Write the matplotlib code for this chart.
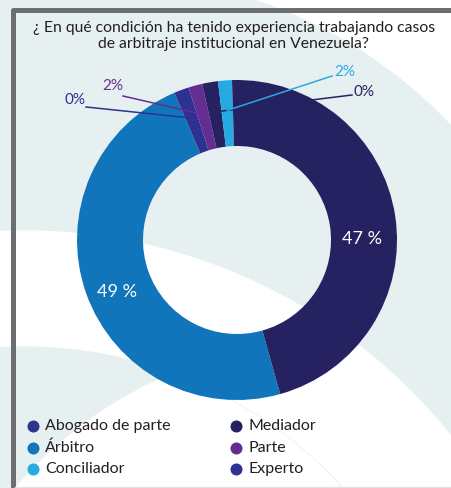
import numpy as np
import matplotlib.pyplot as plt
from matplotlib.patches import Circle

# datos
titulo = "¿ En qué condición ha tenido experiencia trabajando casos\nde arbitraje institucional en Venezuela?"
porciones = ["Mediador", "Árbitro", "Experto", "Parte", "Abogado de parte", "Conciliador"]
valores = [46.2, 48.0, 1.5, 1.4, 1.6, 1.4]
etiquetas = ["47 %", "49 %", "0%", "2%", "0%", "2%"]
colores = ["#262262", "#1075bb", "#2e3192", "#662d91", "#262262", "#27aae1"]

leyenda = ["Abogado de parte", "Árbitro", "Conciliador", "Mediador", "Parte", "Experto"]
colores_leyenda = ["#2b3590", "#1075bb", "#27aae1", "#262262", "#662d91", "#2e3192"]

W, H = 451, 488
fig = plt.figure(figsize=(W / 100, H / 100), dpi=100)
ax = fig.add_axes([0, 0, 1, 1])
ax.set_xlim(0, W)
ax.set_ylim(0, H)
ax.set_aspect("equal")
ax.axis("off")

claro = "#e7f0f1"
ax.add_patch(plt.Rectangle((0, 0), W, H, color="white", zorder=-10))
# fondo con curvas
ax.add_patch(Circle((105, H - 450), 474, color=claro, zorder=-9))
ax.add_patch(Circle((24, H - 778), 547, color="white", zorder=-8))
interior = Circle((24, H - 778), 431, color=claro, zorder=-7)
ax.add_patch(interior)
blanco = Circle((329, H - 754), 411, color="white", zorder=-6)
ax.add_patch(blanco)
blanco.set_clip_path(interior)

# marco gris
ax.plot([13, 13, W], [0, H - 10, H - 10], color="#6d6e71", lw=3.6,
        solid_joinstyle="round", solid_capstyle="butt", zorder=-1)
ax.plot([15, W], [1.5, 1.5], color="#e2e2e2", lw=1, zorder=-1)

fam = ["Lato", "DejaVu Sans"]
ax.text(234, H - 36, titulo, ha="center", va="center", fontsize=11.3,
        color="#231f20", family=fam, linespacing=1.2)

cx, cy, R = 237, H - 240, 160
wedges, _ = ax.pie(valores, colors=colores, startangle=91.8, counterclock=False,
                   center=(cx, cy), radius=R,
                   wedgeprops=dict(width=66, linewidth=0))
ax.set_xlim(0, W)
ax.set_ylim(0, H)
wedges[0].set_zorder(3)
for w in wedges[1:]:
    w.set_zorder(1)

# etiquetas internas
ax.text(362, H - 239, etiquetas[0], color="white", fontsize=13, family=fam,
        ha="center", va="center", zorder=5)
ax.text(117, H - 292, etiquetas[1], color="white", fontsize=13, family=fam,
        ha="center", va="center", zorder=5)

# etiquetas externas con lineas guia
pos_texto = {2: (75, H - 100), 3: (113, H - 86), 4: (364, H - 92), 5: (345, H - 72)}
inicio_linea = {2: (86, H - 107), 3: (123, H - 96), 4: (352, H - 95), 5: (332, H - 76)}
for i, (tx, ty) in pos_texto.items():
    th = np.deg2rad((wedges[i].theta1 + wedges[i].theta2) / 2)
    ex, ey = cx + 130 * np.cos(th), cy + 130 * np.sin(th)
    sx, sy = inicio_linea[i]
    z = 2 if i == 4 else 4
    ax.plot([sx, ex], [sy, ey], color=colores[i], lw=1.1, zorder=z)
    ax.text(tx, ty, etiquetas[i], color=colores[i],
            fontsize=11, family=fam, ha="center", va="center", zorder=5)

# leyenda
for k, (nombre, col) in enumerate(zip(leyenda, colores_leyenda)):
    fila, colm = k % 3, k // 3
    mx = 33 + colm * 203
    my = H - (426 + fila * 21.5)
    ax.scatter([mx], [my], s=75, color=col, zorder=5, linewidths=0)
    ax.text(mx + 12, my, nombre, fontsize=11.5, family=fam, color="#231f20",
            ha="left", va="center", zorder=5)

fig.savefig("out.png", dpi=100)
